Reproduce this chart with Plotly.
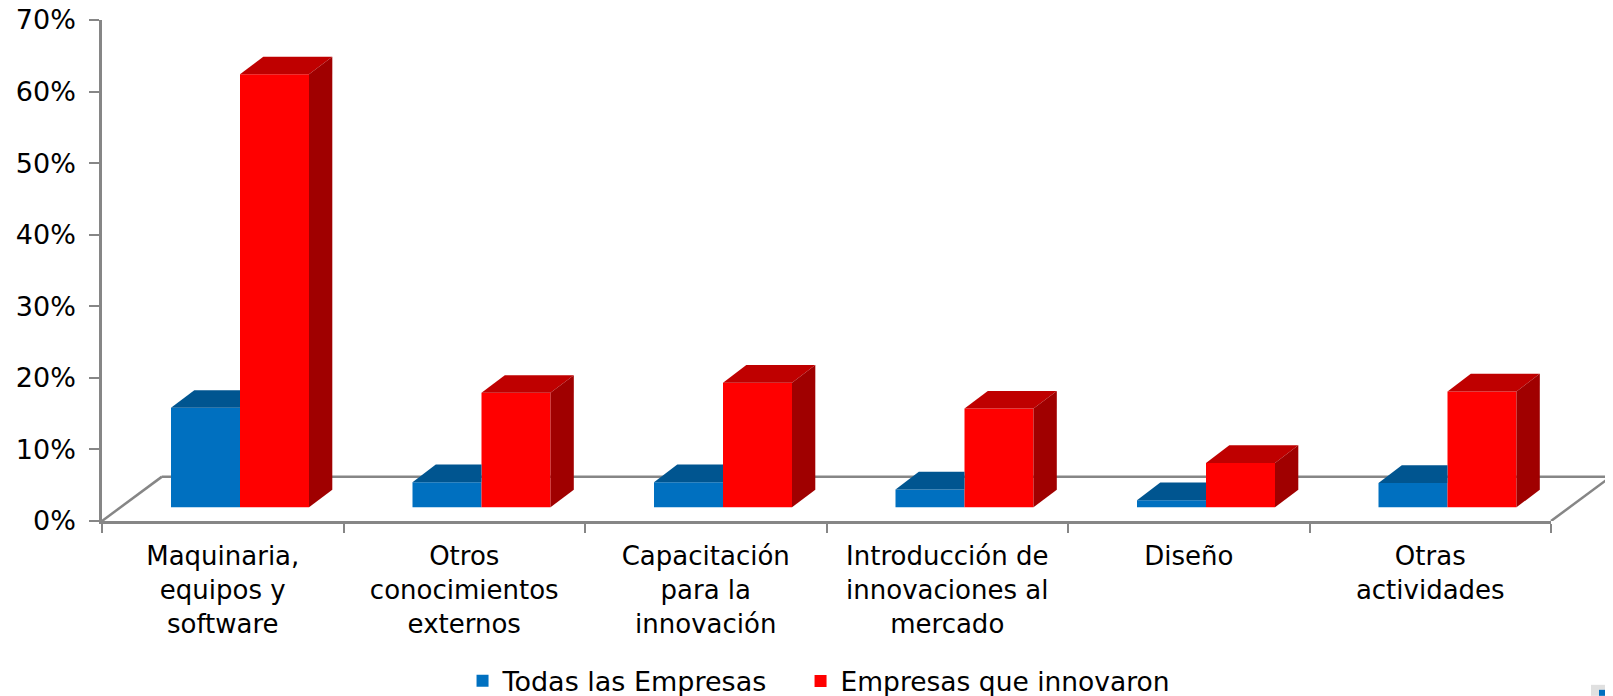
import plotly.graph_objects as go

categories = ["Maquinaria,<br>equipos y<br>software", "Otros<br>conocimientos<br>externos",
              "Capacitación<br>para la<br>innovación", "Introducción de<br>innovaciones al<br>mercado",
              "Diseño", "Otras<br>actividades"]
todas = [13.9, 3.5, 3.5, 2.5, 1.0, 3.4]
innovaron = [60.5, 16.0, 17.4, 13.8, 6.2, 16.2]
y_ticks = [0, 10, 20, 30, 40, 50, 60, 70]
y_ticktext = ["0%", "10%", "20%", "30%", "40%", "50%", "60%", "70%"]

# The page has an 8 px body margin, so the figure is 8 px smaller and shifted.
PAGE = 8
W, H = 1613 - PAGE, 696 - PAGE
L, T, B = 102 - PAGE, 19.5 - PAGE, 175
CAT_PX = 241.5
PLOT_W = W - L
PLOT_H = H - T - B
FRONT_W = CAT_PX * 6

BASE = 1.91          # front plane of bars sits above the axis floor edge
BAR_W = 69 / CAT_PX
OFF_BLUE = (171 - (102 + CAT_PX / 2)) / CAT_PX
OFF_RED = OFF_BLUE + BAR_W
DX = 23.3 / CAT_PX   # bar depth
DY = 2.47
FDX, FDY = 60 / CAT_PX, 6.2  # floor depth

GREY = "#868686"
FONT = "DejaVu Sans"
TXT = "#000000"

fig = go.Figure()

# front faces
cat_idx = list(range(6))
fig.add_trace(go.Bar(name="Todas las Empresas", x=cat_idx, y=todas, base=[BASE] * 6, legend="legend",
                     width=BAR_W, offset=OFF_BLUE, marker=dict(color="#0070C0", line_width=0)))
fig.add_trace(go.Bar(name="Empresas que innovaron", x=cat_idx, y=innovaron, base=[BASE] * 6, legend="legend2",
                     width=BAR_W, offset=OFF_RED, marker=dict(color="#FF0000", line_width=0)))


def poly(xs, ys, color):
    fig.add_trace(go.Scatter(x=xs, y=ys, mode="lines", fill="toself",
                             fillcolor=color, line=dict(width=0), showlegend=False, hoverinfo="skip"))


for i, (a, b) in enumerate(zip(todas, innovaron)):
    l = i + OFF_BLUE
    m = l + BAR_W
    r = m + BAR_W
    ta = BASE + a
    tb = BASE + b
    poly([l, l + DX, m, m, l], [ta, ta + DY, ta + DY, ta, ta], "#005590")
    poly([m, m + DX, r + DX, r, m], [tb, tb + DY, tb + DY, tb, tb], "#BF0000")
    poly([r, r + DX, r + DX, r, r], [BASE, BASE + DY, tb + DY, tb, BASE], "#A00000")

# invisible carrier so the category axis is drawn
fig.add_trace(go.Scatter(x=cat_idx, y=[0] * 6, xaxis="x2", yaxis="y", mode="markers",
                         marker=dict(opacity=0), showlegend=False, hoverinfo="skip"))

shapes = [dict(type="line", xref="x", yref="y", layer="below",
               x0=x0, y0=y0, x1=x1, y1=y1, line=dict(color=GREY, width=2.5))
          for x0, y0, x1, y1 in [(-0.5, 0, -0.5 + FDX, FDY),
                                 (-0.5 + FDX, FDY, 5.5 + FDX, FDY),
                                 (5.5 + FDX, FDY, 5.5, 0)]]


def px_x(p):
    return (p - PAGE - L) / PLOT_W


def px_y(p):
    return 1 - (p - PAGE - T) / PLOT_H


# small clipped object in the bottom-right corner of the reference
shapes += [dict(type="rect", xref="paper", yref="paper", x0=px_x(1591), x1=px_x(1613), y0=px_y(696), y1=px_y(685),
                fillcolor="#E0E0E0", line_width=0),
           dict(type="rect", xref="paper", yref="paper", x0=px_x(1599), x1=px_x(1613), y0=px_y(696), y1=px_y(690),
                fillcolor="#0070C0", line_width=0)]

leg_common = dict(orientation="h", xref="container", yref="container", xanchor="left", yanchor="middle",
                  bgcolor="rgba(0,0,0,0)", borderwidth=0)

fig.update_layout(
    width=W, height=H, autosize=False, paper_bgcolor="white", plot_bgcolor="rgba(0,0,0,0)",
    margin=dict(l=L, r=0, t=T, b=B, pad=0, autoexpand=False),
    barmode="overlay",
    font=dict(family=FONT, size=26, color=TXT),
    xaxis=dict(domain=[0, 1], anchor="y", range=[-0.5, -0.5 + PLOT_W / CAT_PX], visible=False),
    xaxis2=dict(domain=[0, FRONT_W / PLOT_W], anchor="y", range=[-0.5, 5.5],
                tickmode="array", tickvals=cat_idx, ticktext=categories, ticks="",
                ticklabelstandoff=10,
                minor=dict(tick0=-0.5, dtick=1, ticks="outside", ticklen=9, tickwidth=2, tickcolor=GREY,
                           showgrid=False),
                showline=True, linecolor=GREY, linewidth=2.5, showgrid=False, zeroline=False,
                tickangle=0, tickfont=dict(family=FONT, size=26, color=TXT)),
    yaxis=dict(domain=[0, 1], anchor="x", range=[0, 70], tickmode="array", tickvals=y_ticks,
               ticktext=y_ticktext, ticks="outside", ticklen=10, tickwidth=2, tickcolor=GREY,
               ticklabeloverflow="allow", ticklabelstandoff=8, automargin=False,
               showline=True, linecolor=GREY, linewidth=2.5, showgrid=False, zeroline=False,
               tickfont=dict(family=FONT, size=27, color=TXT)),
    legend=dict(x=0.2832, y=0.0215, font=dict(family=FONT, size=27, color=TXT), **leg_common),
    legend2=dict(x=0.4938, y=0.0215, font=dict(family=FONT, size=26.5, color=TXT), **leg_common),
    shapes=shapes,
)

fig.write_html("out.html")
